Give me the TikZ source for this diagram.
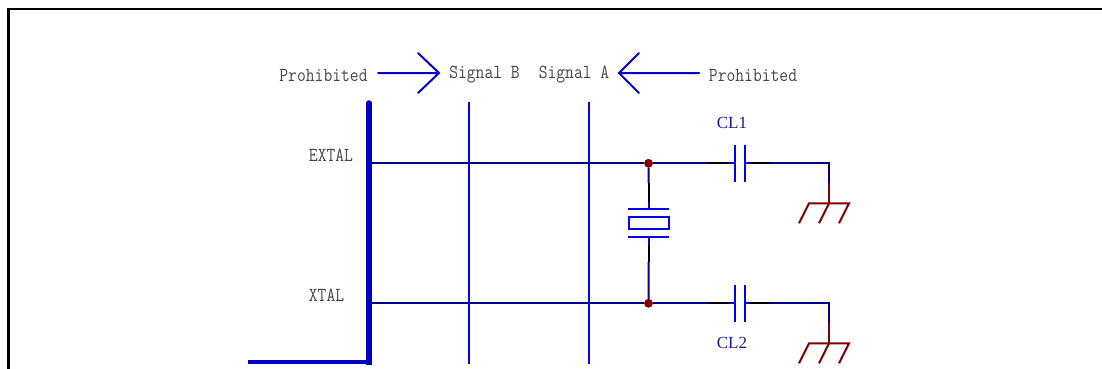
\documentclass[tikz,border=0pt]{standalone}
\usepackage{fontspec}
\setmainfont{Liberation Serif}
\setmonofont[FakeStretch=0.86]{Latin Modern Mono}
\definecolor{arrowblue}{RGB}{0,0,205}
\definecolor{brightblue}{RGB}{0,0,240}
\definecolor{busblue}{RGB}{0,0,192}
\definecolor{navy}{RGB}{0,0,140}
\definecolor{darkred}{RGB}{128,0,0}
\definecolor{labblue}{RGB}{25,25,135}
\tikzset{
 x=1pt,y=-1pt,
 mono/.style={font=\ttfamily\fontsize{19.9pt}{20pt}\selectfont,text=black!72,inner sep=0pt},
 lab/.style={font=\fontsize{17pt}{18pt}\selectfont,text=labblue,inner sep=0pt},
 wire/.style={draw=navy,line width=2pt},
 bl/.style={draw=brightblue,line width=2pt},
 blk/.style={draw=black,line width=2pt},
 redw/.style={draw=darkred,line width=2pt},
 dot/.style={circle,fill=darkred,minimum size=8.5pt,inner sep=0pt},
}
\begin{document}
\begin{tikzpicture}
\useasboundingbox (0,0) rectangle (1102,369);
\draw[black,line width=2.3pt] (8.5,369) -- (8.5,9.3) -- (1102,9.3);
\node[mono] (p1) at (323.5,75) {Prohibited};
\node[mono] (sb) at (484.5,75) {Signal B};
\node[mono] (sa) at (574,75) {Signal A};
\node[mono] (p2) at (753,75) {Prohibited};
\node[mono] (ex) at (331,155) {EXTAL};
\node[mono] (xt) at (326.5,295) {XTAL};
\node[lab] (cl1) at (732,122.7) {CL1};
\node[lab] (cl2) at (732,343) {CL2};
\coordinate (a1s) at (378,73); \coordinate (a1t) at (439,73);
\draw[arrowblue,line width=2pt,line cap=round] (a1s) -- (a1t) (418,53) -- (a1t) -- (418,93);
\coordinate (a2s) at (699,73); \coordinate (a2t) at (619,73);
\draw[arrowblue,line width=2pt,line cap=round] (a2s) -- (a2t) (639,53) -- (a2t) -- (639,93);
\coordinate (bus1) at (369,103); \coordinate (bus2) at (369,364.5); \coordinate (bus3) at (248,362);
\draw[busblue,line width=5.5pt,line cap=round] (bus1) -- (369,362);
\draw[busblue,line width=5.5pt] (bus2) -- (369,360);
\draw[busblue,line width=4.5pt] (371.5,362) -- (bus3);
\coordinate (sb1) at (468.7,102); \coordinate (sb2) at (468.7,364);
\coordinate (sa1) at (588.7,102); \coordinate (sa2) at (588.7,364);
\draw[bl] (sb1) -- (sb2) (sa1) -- (sa2);
\coordinate (e0) at (369,163.3); \coordinate (x0) at (369,303.3);
\node[dot] (d1) at (648.5,163.3) {};
\node[dot] (d2) at (648.5,303.3) {};
\draw[wire] (e0) -- (d1) -- (709,163.3);
\draw[wire] (x0) -- (d2) -- (709,303.3);
\foreach \y in {163.3,303.3}{
 \draw[blk] (709,\y) -- (729,\y) (749,\y) -- (769,\y);
 \draw[bl] (729,\y) -- (735,\y) (745,\y) -- (749,\y);
 \draw[bl] (735,\y-18) -- (735,\y+18.5) (745,\y-18) -- (745,\y+18.5);
 \draw[wire,line join=miter] (769,\y) -- (828.7,\y) -- (828.7,\y+20);
 \draw[redw] (828.7,\y+20) -- (828.7,\y+40);
 \draw[redw] (799,\y+60) -- (809,\y+40) -- (849,\y+40) -- (839,\y+60);
 \draw[redw] (829,\y+40) -- (819,\y+60);
}
\draw[wire] (d1) -- (648.7,183);
\draw[blk] (648.7,183) -- (648.7,202);
\draw[bl] (648.7,202) -- (648.7,209);
\draw[bl] (628,209) -- (669,209) (628,237) -- (669,237);
\draw[bl] (629,217) rectangle (669,229);
\draw[bl] (648.7,237) -- (648.7,245);
\draw[blk] (648.7,245) -- (648.7,262);
\draw[wire] (648.7,262) -- (d2);
\node[dot] at (d1) {};
\node[dot] at (d2) {};
\end{tikzpicture}
\end{document}
